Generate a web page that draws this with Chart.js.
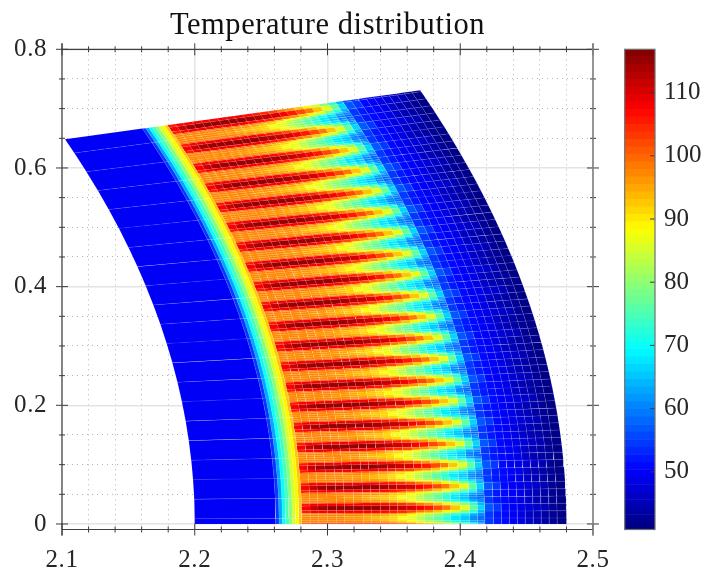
<!DOCTYPE html>
<html>
<head>
<meta charset="utf-8">
<title>Temperature distribution</title>
<script src="https://cdn.jsdelivr.net/npm/chart.js@4/dist/chart.umd.min.js"></script>
<style>
  html, body { margin: 0; padding: 0; background: #fff; }
  #wrap { position: relative; width: 706px; height: 569px; overflow: hidden; }
  canvas { position: absolute; top: 0; }
</style>
</head>
<body>
<div id="wrap">
  <canvas id="mapChart" width="706" height="569" style="left:0"></canvas>
  <canvas id="barChart" width="86" height="569" style="left:620px"></canvas>
</div>
<script>
// axes
const xTicks = [2.1, 2.12, 2.14, 2.16, 2.18, 2.2, 2.22, 2.24, 2.26, 2.28, 2.3, 2.32, 2.34, 2.36, 2.38, 2.4, 2.42, 2.44, 2.46, 2.48, 2.5];
const xMajor = [2.1, 2.2, 2.3, 2.4, 2.5];
const yTicks = [0, 0.05, 0.1, 0.15, 0.2, 0.25, 0.3, 0.35, 0.4, 0.45, 0.5, 0.55, 0.6, 0.65, 0.7, 0.75, 0.8];
const yMajor = [0, 0.2, 0.4, 0.6, 0.8];
const barTicks = [50, 60, 70, 80, 90, 100, 110];
const tempMin = 40.87;
const tempMax = 116.85;
const levels = 64;

// mesh: angle of each slot centre in degrees, sector ends at sectorEnd
const sectorEnd = 17.14;
const slotPitch = 0.857;
const slotAngles = [-0.19, 0.66, 1.52, 2.37, 3.23, 4.09, 4.95, 5.80, 6.66, 7.52, 8.37, 9.23, 10.09, 10.94, 11.80, 12.66, 13.51, 14.37, 15.23, 16.08, 16.94];

// inner part, one cell per slot pitch
const wallRadii = [2.2, 2.261, 2.2635, 2.266, 2.2685, 2.271, 2.2735, 2.276, 2.2785, 2.2806];
const wallTemps = [49.7, 55, 63, 70, 75, 80, 85, 89, 93];

// slot part, bands across one pitch
const slotRadii = [2.2806, 2.287, 2.293, 2.30, 2.307, 2.313, 2.32, 2.327, 2.333, 2.34, 2.347, 2.353, 2.36, 2.367, 2.373, 2.38, 2.387, 2.393, 2.40, 2.407, 2.413, 2.4185];
const slotBands = [-0.5, -0.4, -0.3, -0.24, -0.11, 0.11, 0.24, 0.3, 0.4, 0.5];
const tempCore = [108, 112, 114, 115, 115, 115, 115, 115, 115, 114, 113, 112, 110, 108, 105, 102, 98, 93, 86, 77, 66];
const tempInner = [106, 108, 108, 108, 108, 108, 108, 108, 108, 107, 105, 104, 102, 99, 96, 93, 89, 85, 79, 72, 64];
const tempShoulder = [99, 100, 100, 100, 100, 100, 100, 100, 99, 98, 97, 95, 92, 89, 86, 83, 79, 75, 71, 66, 61];
const tempFlank = [97, 97, 97, 97, 97, 97, 97, 96, 96, 95, 93, 91, 88, 85, 82, 79, 75, 71, 67, 63, 60];
const tempGap = [97, 97, 97, 97, 97, 96, 96, 95, 94, 93, 91, 88, 86, 83, 80, 76, 72, 68, 65, 61, 58];
const slotRows = [tempGap, tempFlank, tempShoulder, tempInner, tempCore, tempInner, tempShoulder, tempFlank, tempGap];

// outer part
const yokeRadii = [2.4185, 2.425, 2.431, 2.437, 2.443, 2.449, 2.455, 2.461, 2.467, 2.473, 2.48];
const yokeBands = [-0.5, -0.17, 0.17, 0.5];
const yokeCentre = [57, 54, 51, 50, 49, 47.5, 46, 44.5, 43, 42];
const yokeSide = [55, 52, 50.5, 49.5, 48, 46.5, 45, 44, 42.5, 41.8];
const yokeRows = [yokeSide, yokeCentre, yokeSide];

function jet(t) {
  const clamp = v => Math.round(255 * Math.max(0, Math.min(1, v)));
  const r = clamp(Math.min(4 * t - 1.5, 4.5 - 4 * t));
  const g = clamp(Math.min(4 * t - 0.5, 3.5 - 4 * t));
  const b = clamp(Math.min(4 * t + 0.5, 2.5 - 4 * t));
  return `rgb(${r},${g},${b})`;
}

function levelColor(i) {
  return jet((i + 0.5) / levels);
}

function tempColor(temp) {
  let i = Math.floor((temp - tempMin) / (tempMax - tempMin) * levels);
  i = Math.max(0, Math.min(levels - 1, i));
  return levelColor(i);
}

function polar(r, deg) {
  const a = deg * Math.PI / 180;
  return { x: r * Math.cos(a), y: r * Math.sin(a) };
}

const cells = [];

function addCell(r0, r1, a0, a1, temp, seam) {
  a0 = Math.max(0, a0);
  a1 = Math.min(sectorEnd, a1);
  if (a1 <= a0) return;
  cells.push({
    type: 'scatter',
    showLine: true,
    fill: 'shape',
    tension: 0,
    pointRadius: 0,
    borderWidth: 0.6,
    borderColor: seam,
    backgroundColor: tempColor(temp),
    data: [polar(r0, a0), polar(r1, a0), polar(r1, a1), polar(r0, a1), polar(r0, a0)]
  });
}

function addZone(radii, bands, rows, centre, seam) {
  for (let b = 0; b < rows.length; b++) {
    const a0 = centre + bands[b] * slotPitch;
    const a1 = centre + bands[b + 1] * slotPitch;
    for (let i = 0; i < radii.length - 1; i++) {
      addCell(radii[i], radii[i + 1], a0, a1, rows[b][i], seam);
    }
  }
}

slotAngles.forEach(centre => {
  addZone(wallRadii, [-0.5, 0.5], [wallTemps], centre, 'rgba(255,255,255,0.09)');
  addZone(slotRadii, slotBands, slotRows, centre, 'rgba(255,255,255,0.07)');
  addZone(yokeRadii, yokeBands, yokeRows, centre, 'rgba(255,255,255,0.10)');
});

const darkText = '#262626';
const tickFont = { family: '"Liberation Serif", serif', size: 25 };

function line(ctx, x0, y0, x1, y1, color, width) {
  ctx.strokeStyle = color;
  ctx.lineWidth = width;
  ctx.beginPath();
  ctx.moveTo(x0, y0);
  ctx.lineTo(x1, y1);
  ctx.stroke();
}

// ticks cross the box on all four sides
const boxPlugin = {
  id: 'boxPlugin',
  beforeDraw(chart) {
    chart.ctx.letterSpacing = '0.55px';
  },
  afterDraw(chart) {
    const { ctx, chartArea: a, scales } = chart;
    ctx.save();
    const tickColor = '#3a3a3a';
    xTicks.forEach(v => {
      const px = scales.x.getPixelForValue(v);
      const len = xMajor.includes(v) ? 6 : 3;
      line(ctx, px, a.bottom - len, px, a.bottom + len, tickColor, 1);
      line(ctx, px, a.top - len, px, a.top + len, tickColor, 1);
    });
    yTicks.forEach(v => {
      const py = scales.y.getPixelForValue(v);
      const len = yMajor.includes(v) ? 6 : 3;
      line(ctx, a.left - len, py, a.left + len, py, tickColor, 1);
      line(ctx, a.right - len, py, a.right + len, py, tickColor, 1);
    });
    line(ctx, a.left, a.top - 6, a.left, a.bottom + 6, '#404040', 1.2);
    line(ctx, a.left, a.bottom, a.right, a.bottom, '#404040', 1.2);
    line(ctx, a.left, a.top, a.right, a.top, '#404040', 1.2);
    line(ctx, a.right, a.top - 6, a.right, a.bottom + 6, '#808080', 1.6);
    ctx.restore();
  }
};

new Chart(document.getElementById('mapChart'), {
  type: 'scatter',
  data: { datasets: cells },
  plugins: [boxPlugin],
  options: {
    responsive: false,
    animation: false,
    events: [],
    layout: { padding: { left: 0, right: 113, top: 0, bottom: 0 } },
    plugins: {
      legend: { display: false },
      tooltip: { enabled: false },
      filler: { drawTime: 'beforeDatasetsDraw' },
      title: {
        display: true,
        fullSize: false,
        text: 'Temperature distribution',
        color: '#111',
        font: { family: '"Liberation Serif", serif', size: 30.5, weight: 'normal', lineHeight: 1 },
        padding: { top: 11, bottom: 7.8 }
      }
    },
    scales: {
      x: {
        type: 'linear',
        min: 2.1,
        max: 2.5,
        afterBuildTicks: s => { s.ticks = xTicks.map(v => ({ value: v })); },
        afterFit: s => { s.height = 39.5; },
        ticks: {
          autoSkip: false,
          maxRotation: 0,
          color: darkText,
          font: tickFont,
          padding: 16,
          callback: v => xMajor.includes(v) ? v.toFixed(1) : ''
        },
        border: {
          display: false,
          dash: c => xMajor.includes(c.tick && c.tick.value) ? [] : [1, 4]
        },
        grid: {
          drawTicks: false,
          color: c => xMajor.includes(c.tick && c.tick.value) ? '#e4e4e4' : '#b4b4b4',
          lineWidth: c => xMajor.includes(c.tick && c.tick.value) ? 1.6 : 1
        }
      },
      y: {
        type: 'linear',
        min: -0.0093,
        max: 0.8,
        afterBuildTicks: s => { s.ticks = yTicks.map(v => ({ value: v })); },
        afterFit: s => { s.width = 62; },
        ticks: {
          autoSkip: false,
          color: darkText,
          font: tickFont,
          padding: 15,
          callback: v => yMajor.includes(v) ? (v === 0 ? '0' : v.toFixed(1)) : ''
        },
        border: {
          display: false,
          dash: c => yMajor.includes(c.tick && c.tick.value) ? [] : [1, 4]
        },
        grid: {
          drawTicks: false,
          color: c => yMajor.includes(c.tick && c.tick.value) ? '#e4e4e4' : '#b4b4b4',
          lineWidth: c => yMajor.includes(c.tick && c.tick.value) ? 1.6 : 1
        }
      }
    }
  }
});

// colour bar
const barSets = [];
for (let i = 0; i < levels; i++) {
  const step = (tempMax - tempMin) / levels;
  barSets.push({
    data: [[tempMin + i * step, tempMin + (i + 1) * step]],
    backgroundColor: levelColor(i),
    borderWidth: 0,
    barPercentage: 1,
    categoryPercentage: 1,
    grouped: false
  });
}

const barBoxPlugin = {
  id: 'barBoxPlugin',
  afterDraw(chart) {
    const { ctx, chartArea: a, scales } = chart;
    ctx.save();
    barTicks.forEach(v => {
      const py = scales.y.getPixelForValue(v);
      line(ctx, a.right - 5, py, a.right, py, '#3a3a3a', 1);
    });
    ctx.strokeStyle = '#6e6e6e';
    ctx.lineWidth = 1.2;
    ctx.strokeRect(a.left, a.top, a.right - a.left, a.bottom - a.top);
    ctx.restore();
  }
};

new Chart(document.getElementById('barChart'), {
  type: 'bar',
  data: { labels: ['T'], datasets: barSets },
  plugins: [barBoxPlugin],
  options: {
    responsive: false,
    animation: false,
    events: [],
    layout: { padding: { left: 4.7, right: 0, top: 49.3, bottom: 39.5 } },
    plugins: { legend: { display: false }, tooltip: { enabled: false } },
    scales: {
      x: { display: false },
      y: {
        position: 'right',
        min: tempMin,
        max: tempMax,
        afterBuildTicks: s => { s.ticks = barTicks.map(v => ({ value: v })); },
        afterFit: s => { s.width = 51; },
        grid: { display: false, drawTicks: false },
        border: { display: false },
        ticks: { color: darkText, font: tickFont, padding: 9, crossAlign: 'near' }
      }
    }
  }
});
</script>
</body>
</html>
